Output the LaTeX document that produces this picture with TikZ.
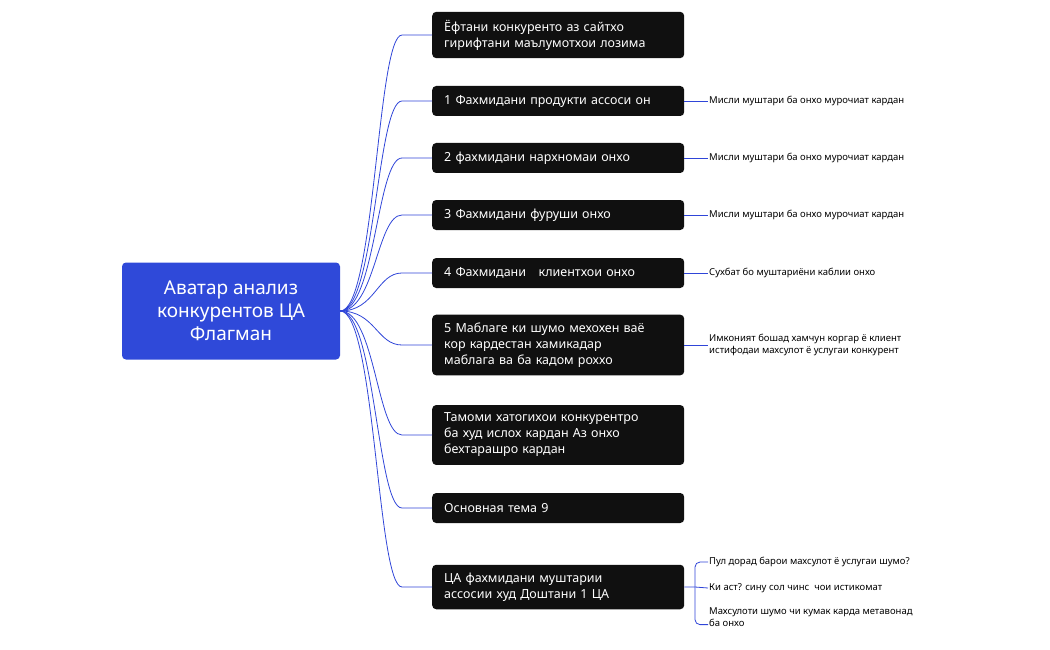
\documentclass[tikz,border=0pt]{standalone}
\usepackage{fontspec}
\setmainfont{Noto Sans}
\usetikzlibrary{positioning}
\definecolor{rootblue}{HTML}{2F49D9}
\definecolor{linkblue}{HTML}{2F45D8}
\definecolor{boxblack}{HTML}{101010}
\begin{document}
\begin{tikzpicture}[x=1pt,y=-1pt,
rootnode/.style={rectangle, rounded corners=4pt, fill=rootblue, text=white, font=\bfseries\fontsize{19}{23}\selectfont, align=center, minimum width=218pt, minimum height=97pt},
topic/.style={rectangle, rounded corners=4pt, fill=boxblack, text=white, font=\bfseries\fontsize{12.5}{16}\selectfont, align=left, text width=228pt, inner xsep=12pt, inner ysep=8pt, minimum height=30pt, anchor=west},
leaf/.style={font=\fontsize{9.5}{12}\selectfont, align=left, anchor=west, inner sep=1pt},
link/.style={linkblue, thick},
]
\useasboundingbox (0,0) rectangle (1050,650);
\node[rootnode](root) at (231,311){Аватар анализ\\конкурентов ЦА\\Флагман};
% main topics
\node[topic](t0) at (432,35){Ёфтани конкуренто аз сайтхо\\гирифтани маълумотхои лозима};
\node[topic](t1) at (432,101){1 Фахмидани продукти ассоси он};
\node[topic](t2) at (432,158){2 фахмидани нархномаи онхо};
\node[topic](t3) at (432,215){3 Фахмидани фуруши онхо};
\node[topic](t4) at (432,273){4 Фахмидани \ \ клиентхои онхо};
\node[topic](t5) at (432,345){5 Маблаге ки шумо мехохен ваё\\кор кардестан хамикадар\\маблага ва ба кадом роххо};
\node[topic](t6) at (432,435){Тамоми хатогихои конкурентро\\ба худ ислох кардан Аз онхо\\бехтарашро кардан};
\node[topic](t7) at (432,508){Основная тема 9};
\node[topic](t8) at (432,587){ЦА фахмидани муштарии\\ассосии худ Доштани 1 ЦА};
\foreach \t in {t0,t1,t2,t3,t4,t5,t6,t7,t8}
  \draw[link] (root.east) .. controls +(35,0) and +(-25,0) .. ([xshift=-30pt]\t.west) -- (\t.west);
% leaves
\node[leaf](l1) at (708,101){Мисли муштари ба онхо мурочиат кардан};
\node[leaf](l2) at (708,158){Мисли муштари ба онхо мурочиат кардан};
\node[leaf](l3) at (708,215){Мисли муштари ба онхо мурочиат кардан};
\node[leaf](l4) at (708,273){Сухбат бо муштариёни каблии онхо};
\node[leaf](l5) at (708,345){Имконият бошад хамчун коргар ё клиент\\истифодаи махсулот ё услугаи конкурент};
\foreach \t/\l in {t1/l1,t2/l2,t3/l3,t4/l4,t5/l5}
  \draw[link] (\t.east) -- (\l.west);
\node[leaf](l6) at (708,562){Пул дорад барои махсулот ё услугаи шумо?};
\node[leaf](l7) at (708,588){Ки аст? сину сол чинс \ чои истикомат};
\node[leaf, anchor=north west](l8) at (708,607){Махсулоти шумо чи кумак карда метавонад\\ба онхо};
\coordinate (fork) at (695,587);
\draw[link] (t8.east) -- (fork) -- (l7.west);
\draw[link, rounded corners=5pt] (l6.west) -| (fork) |- ([yshift=-7pt]l8.west);
\end{tikzpicture}
\end{document}
